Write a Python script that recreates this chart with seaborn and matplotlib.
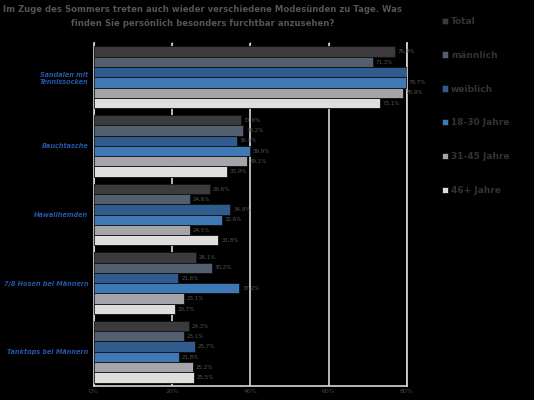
import pandas as pd
import matplotlib
matplotlib.use('Agg')
import matplotlib.pyplot as plt
import seaborn as sns

# Daten
kategorien = ['Sandalen mit\nTennissocken', 'Bauchtasche', 'Hawaiihemden',
              '7/8 Hosen bei Männern', 'Tanktops bei Männern']
gruppen = ['Total', 'männlich', 'weiblich', '18-30 Jahre', '31-45 Jahre', '46+ Jahre']
total = [76.9, 37.6, 29.6, 26.1, 24.3]
maennlich = [71.3, 38.2, 24.6, 30.2, 23.1]
weiblich = [80.4, 36.5, 34.9, 21.6, 25.7]
jahre_18_30 = [79.7, 39.9, 32.6, 37.2, 21.8]
jahre_31_45 = [78.9, 39.1, 24.5, 23.1, 25.2]
jahre_46 = [73.1, 33.9, 31.8, 20.7, 25.5]
farben = ['#3b3b3e', '#4e5e74', '#1f5c9c', '#2b79c9', '#a3a3ab', '#dedede']

werte = [total, maennlich, weiblich, jahre_18_30, jahre_31_45, jahre_46]
zeilen = []
for g, serie in zip(gruppen, werte):
    for k, v in zip(kategorien, serie):
        zeilen.append({'Kategorie': k, 'Gruppe': g, 'Wert': v})
df = pd.DataFrame(zeilen)

sns.set_style('white')
plt.rcParams['font.family'] = ['DejaVu Sans']

fig = plt.figure(figsize=(5.34, 4.0), dpi=100, facecolor='black')
ax = fig.add_axes([0.176, 0.035, 0.586, 0.8575])
ax.set_facecolor('black')

sns.barplot(data=df, y='Kategorie', x='Wert', hue='Gruppe', hue_order=gruppen,
            order=kategorien, palette=farben, orient='h', width=0.9,
            edgecolor='#111111', linewidth=0.6, ax=ax, zorder=3)

ax.set_xlim(0, 80)
ax.set_xticks([0, 20, 40, 60, 80])
ax.set_xticklabels(['0%', '20%', '40%', '60%', '80%'], color='#444444', fontsize=4.5)
ax.tick_params(axis='x', pad=1, length=2, color='#d8d8d8', top=True, direction='inout')
ax.xaxis.grid(True, color='#d8d8d8', linewidth=1.2, zorder=0)
ax.yaxis.grid(False)
for s in ax.spines.values():
    s.set_color('#d8d8d8')
    s.set_linewidth(1.2)
ax.spines['top'].set_visible(False)
ax.set_xlabel('')
ax.set_ylabel('')
ax.tick_params(axis='y', which='major', length=0, pad=4)
ax.set_yticks([i + 0.5 for i in range(-1, len(kategorien))], minor=True)
ax.tick_params(axis='y', which='minor', length=3, width=1, color='#d8d8d8')
ax.set_ylim(len(kategorien) - 0.5, -0.5)
ax.set_yticklabels(kategorien, color='#2456a8', fontsize=4.7, fontweight='bold',
                   fontstyle='italic')

# Werte-Beschriftungen
for cont in ax.containers:
    ax.bar_label(cont, labels=[f'{b.get_width():.1f}%'.replace('.', ',') for b in cont],
                 padding=2, fontsize=4, color='#555555', zorder=4)

# Legende rechts
handles, labels = ax.get_legend_handles_labels()
ax.legend_.remove()
leg = fig.legend(handles, labels, loc='upper left', bbox_to_anchor=(0.812, 0.978),
                 frameon=False, labelspacing=2.75, handlelength=0.7, handleheight=0.7,
                 handletextpad=0.3, prop={'size': 6.5, 'weight': 'bold'})
for t in leg.get_texts():
    t.set_color('#333333')

fig.text(0.379, 0.988, 'Im Zuge des Sommers treten auch wieder verschiedene Modesünden zu Tage. Was\n'
         'finden Sie persönlich besonders furchtbar anzusehen?',
         ha='center', va='top', fontsize=6.1, fontweight='bold', color='#555555',
         linespacing=1.75)

fig.savefig('out.png', dpi=100, facecolor='black')
